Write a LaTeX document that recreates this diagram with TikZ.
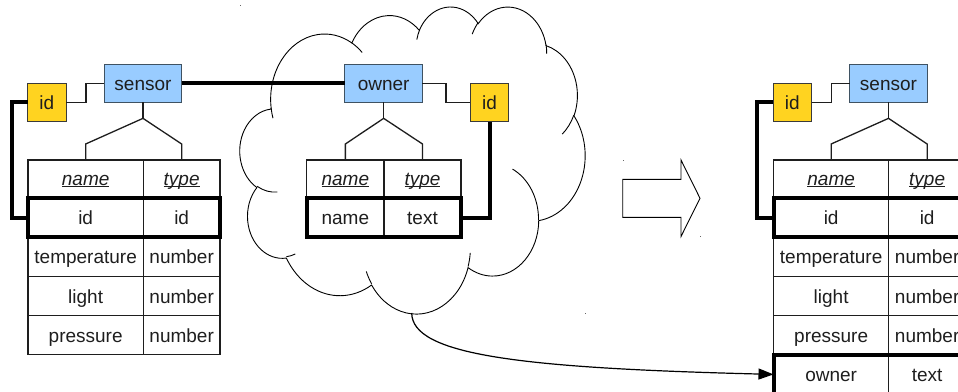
\documentclass[tikz,border=0pt]{standalone}
\usepackage{fontspec}
\setmainfont{Liberation Sans}
\usetikzlibrary{arrows.meta,calc}

\definecolor{entfill}{HTML}{99CCFF}
\definecolor{entline}{HTML}{3F5262}
\definecolor{keyfill}{HTML}{FFD320}
\definecolor{keyline}{HTML}{3A3A3A}
\definecolor{ink}{HTML}{1E1E1E}

% underline at a fixed depth, independent of descenders
\newcommand\ulword[1]{\setbox0\hbox{#1}\rlap{\rule[-2.4pt]{\wd0}{1.1pt}}\box0}

% elliptic arc given by visual start angle and sweep (y pointing down):
% converts them to the parametric angles that TikZ's arc expects
\newcommand\cldcalc[4]{%
  \pgfmathsetmacro\cldA{atan2((#1)*sin(#3),(#2)*cos(#3))}%
  \pgfmathsetmacro\cldB{atan2((#1)*sin((#3)+(#4)),(#2)*cos((#3)+(#4)))}%
  \pgfmathsetmacro\cldD{mod(\cldB-\cldA+720,360)}%
}
\newcommand\carc[4]{\pgfextra{\cldcalc{#1}{#2}{#3}{#4}} arc[start angle=\cldA, delta angle=\cldD, x radius=#1pt, y radius=#2pt]}

% sensor entity with its attribute table
\newcommand\sensorpart[1]{%
  \node[key] (#1id) at (46.85,102.2) {id};
  \node[ent] (#1ent) at (143,83.2) {sensor};
  \node[head, colL] (#1h1) at (85.65,179) {\ulword{\textit{name}}};
  \node[head, colR] (#1h2) at (181.65,179) {\ulword{\textit{type}}};
  \foreach \k/\a/\b in {1/id/id,2/temperature/number,3/light/number,4/pressure/number}{
    \node[cell, colL] (#1n\k) at (85.65,{178.4+39.2*\k}) {\a};
    \node[cell, colR] (#1t\k) at (181.65,{178.4+39.2*\k}) {\b};
  }
  \coordinate (#1fork) at ($(#1ent.south)+(0,16)$);
  \draw[thinlink] (#1ent.south) -- (#1fork);
  \draw[thinlink] (#1h1.north) -- ++(0,-16) -- (#1fork) -- ($(#1h2.north)+(0,-16)$) -- (#1h2.north);
  \draw[thicklink] (#1n1.north west) rectangle (#1t1.south east);
  \draw[thinlink] (#1id.east) -- ++(20,0) |- (#1ent.west);
  \draw[thicklink] (#1id.west) -- ++(-16,0) |- (#1n1.west);
}

\begin{document}
\begin{tikzpicture}[x=1pt,y=1pt,yscale=-1,
  every node/.style={font=\fontsize{19}{23}\selectfont, text=ink, outer sep=0pt, inner sep=0pt},
  ent/.style={draw=entline, fill=entfill, line width=1pt, minimum width=77.4pt, minimum height=38.3pt, text height=13.6pt, text depth=0pt},
  key/.style={draw=keyline, fill=keyfill, line width=1pt, minimum width=38.3pt, minimum height=38.3pt, text height=13.6pt, text depth=0pt},
  cell/.style={draw=ink, line width=1.2pt, minimum height=39.2pt, text height=14pt, text depth=0pt},
  head/.style={cell, minimum height=38pt, text height=12pt},
  colL/.style={minimum width=115.3pt},
  colR/.style={minimum width=76.7pt},
  thinlink/.style={draw=ink, line width=1.3pt},
  thicklink/.style={draw=black, line width=4pt},
  cloudline/.style={draw=black, line width=0.9pt}]
\useasboundingbox (0,0) rectangle (958,391);
\clip (0,0) rectangle (958,391);

% the cloud round the owner entity
\begin{scope}[shift={(240,6)}, xscale=0.079861, yscale=0.071065]
  \draw[cloudline, fill=white] (390,1437)
    \carc{675.3}{919.0}{-190.48748}{123.78053}
    \carc{533.3}{726.7}{-144.10238}{89.94523}
    \carc{436.5}{594.5}{-145.80792}{99.72302}
    \carc{485.7}{659.5}{-130.98607}{117.24173}
    \carc{533.3}{727.3}{-78.70888}{109.02692}
    \carc{677.5}{922.0}{-46.26725}{130.26900}
    \carc{578.5}{786.7}{0.62502}{114.03333}
    \carc{675.2}{921.5}{22.45160}{115.17255}
    \carc{772.0}{1054.3}{66.24263}{75.71102}
    \carc{436.0}{591.8}{-274.94208}{146.73557}
    \carc{434.5}{594.5}{-246.82850}{152.51885}
    -- cycle;
  \draw[cloudline] (469.3,2617.7) \carc{434.5}{594.5}{86.74200}{26.42950};
  \draw[cloudline] (692.8,3489.9) \carc{436.0}{591.8}{73.61047}{11.44747};
  \draw[cloudline] (1647.8,3909.0) \carc{675.2}{921.5}{137.62415}{14.08110};
  \draw[cloudline] (2882.7,3475.1) \carc{675.2}{921.5}{6.45327}{15.99835};
  \draw[cloudline] (3412.9,2295.4) \carc{578.5}{786.7}{-70.29235}{70.91737};
  \draw[cloudline] (4179.8,1535.4) \carc{533.3}{727.3}{30.31803}{27.75150};
  \draw[cloudline] (3832.4,542.6) \carc{485.7}{659.5}{-13.74433}{14.85890};
  \draw[cloudline] (2907.8,395.2) \carc{485.7}{659.5}{-149.18145}{18.19537};
  \draw[cloudline] (2214.1,472.0) \carc{436.5}{594.5}{-163.49427}{17.68635};
  \draw[cloudline] (1400.0,519.2) \carc{675.3}{919.0}{-66.70695}{12.31935};
  \draw[cloudline] (412.7,1578.9) \carc{675.3}{919.0}{157.65435}{11.85817};
  \coordinate (cb) at (2150,4320);
\end{scope}

% frame corner marks
\fill[black!60] (240,5) rectangle ++(1.2,1.2);
\fill[black!60] (584.5,313) rectangle ++(1.2,1.2);
\fill[black!60] (622.5,159.5) rectangle ++(1.2,1.2);
\fill[black!60] (700,235.5) rectangle ++(1.2,1.2);

% sensor, before
\sensorpart{s}

% owner entity
\node[ent] (oent) at (383.65,83.2) {owner};
\node[key] (oid) at (489.5,102.5) {id};
\node[head, minimum width=77.3pt] (oh1) at (345.35,179) {\ulword{\textit{name}}};
\node[head, minimum width=77pt] (oh2) at (422.5,179) {\ulword{\textit{type}}};
\node[cell, minimum width=77.3pt] (on1) at (345.35,217.6) {name};
\node[cell, minimum width=77pt] (ot1) at (422.5,217.6) {text};
\coordinate (ofork) at ($(oent.south)+(0,16)$);
\draw[thinlink] (oent.south) -- (ofork);
\draw[thinlink] (oh1.north) -- ++(0,-16) -- (ofork) -- ($(oh2.north)+(0,-16)$) -- (oh2.north);
\draw[thicklink] (on1.north west) rectangle (ot1.south east);
\draw[thinlink] (oent.east) -- ++(23.7,0) |- (oid.west);
\draw[thicklink] (oid.south) |- (ot1.east);

% relation between sensor and owner
\draw[thicklink] (sent.east) -- (oent.west);

% hollow block arrow
\draw[line width=0.9pt, fill=white] (622.7,179.3) -- (681,179.3) -- (681,160) -- (700,198.3)
  -- (681,236.5) -- (681,217.3) -- (622.7,217.3) -- cycle;

% sensor, after
\begin{scope}[shift={(745.5,0)}]
  \sensorpart{r}
  \node[cell, colL] (rn5) at (85.65,{178.4+39.2*5}) {owner};
  \node[cell, colR] (rt5) at (181.65,{178.4+39.2*5}) {text};
  \draw[thicklink] (rn5.north west) rectangle (rt5.south east);
\end{scope}

% the owner entity becomes an attribute
\draw[line width=1.2pt, -{Triangle[length=15pt,width=11pt]}] (cb) .. controls (412,355) and (520,368) .. (rn5.west);
\end{tikzpicture}
\end{document}
